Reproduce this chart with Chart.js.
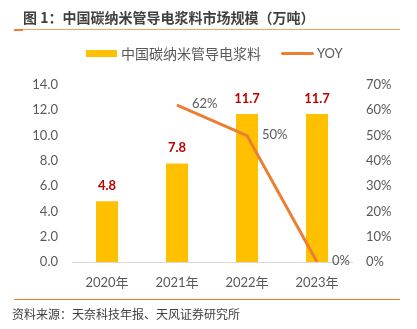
<!DOCTYPE html>
<html>
<head>
<meta charset="utf-8">
<script src="https://cdn.jsdelivr.net/npm/chart.js@4.4.1/dist/chart.umd.min.js"></script>
<style>
  html, body { margin: 0; padding: 0; background: #fff; }
  body { width: 417px; height: 329px; position: relative; overflow: hidden;
         font-family: Lato, "Noto Sans CJK SC", sans-serif; }
  #title { position: absolute; left: 23px; top: 7px; font-size: 14px; font-weight: bold;
           color: #404040; font-family: "Noto Sans CJK SC", sans-serif; white-space: nowrap; }
  #titleRule { position: absolute; left: 14px; top: 29px; width: 386px; height: 1px; background: #F4A35A; }
  #titleMark { position: absolute; left: 14px; top: 29px; width: 9px; height: 2px; background: #ED7D31; }
  #legend { position: absolute; top: 44px; left: 86px; height: 18px; display: flex; align-items: center;
            font-size: 14px; color: #595959; font-family: "Noto Sans CJK SC", sans-serif; }
  .sw-bar { width: 31px; height: 7px; background: #FFC000; margin-right: 4px; }
  .sw-line { width: 33px; height: 3px; background: #ED7D31; border-radius: 2px; margin-left: 20px; margin-right: 3px; }
  #legend .yoy { font-family: Lato, sans-serif; font-size: 13px; }
  #footRule { position: absolute; left: 14px; top: 299px; width: 386px; height: 1px; background: #ED7D31; }
  #source { position: absolute; left: 12px; top: 305px; font-size: 12px; color: #404040;
            font-family: "Noto Sans CJK SC", sans-serif; white-space: nowrap; }
  #wrap { position: absolute; left: 0; top: 0; width: 417px; height: 329px; }
</style>
</head>
<body>
<div id="wrap"><canvas id="c" width="417" height="329"></canvas></div>
<div id="title">图 1：中国碳纳米管导电浆料市场规模（万吨）</div>
<div id="titleRule"></div>
<div id="titleMark"></div>
<div id="legend">
  <div class="sw-bar"></div><span>中国碳纳米管导电浆料</span>
  <div class="sw-line"></div><span class="yoy">YOY</span>
</div>
<div id="footRule"></div>
<div id="source">资料来源：天奈科技年报、天风证券研究所</div>
<script>
// Market size of CNT conductive paste in China (10k tonnes) and year-on-year growth
const years = ['2020年', '2021年', '2022年', '2023年'];
const marketSize = [4.8, 7.8, 11.7, 11.7];
const yoyPct = [null, 62, 50, 0];
const leftTicks = [0, 2, 4, 6, 8, 10, 12, 14];
const rightTicks = [0, 10, 20, 30, 40, 50, 60, 70];

const tickFont = { family: 'Lato, "Noto Sans CJK SC", sans-serif', size: 13 };
const tickColor = '#595959';

// Draws the value labels: bar totals above bars, growth rates to the right of line points
const valueLabels = {
  id: 'valueLabels',
  afterDatasetsDraw(chart) {
    const ctx = chart.ctx;
    ctx.save();
    const bars = chart.getDatasetMeta(0).data;
    ctx.font = 'bold 13px Lato, sans-serif';
    ctx.fillStyle = '#C00000';
    ctx.textAlign = 'center';
    ctx.textBaseline = 'bottom';
    bars.forEach((el, i) => {
      ctx.fillText(marketSize[i].toFixed(1), el.x, el.y - 9);
    });
    const pts = chart.getDatasetMeta(1).data;
    ctx.font = '13px Lato, sans-serif';
    ctx.fillStyle = '#595959';
    ctx.textAlign = 'left';
    ctx.textBaseline = 'middle';
    pts.forEach((el, i) => {
      if (yoyPct[i] === null) return;
      ctx.fillText(yoyPct[i] + '%', el.x + 15, el.y - 1);
    });
    ctx.restore();
  }
};

new Chart(document.getElementById('c'), {
  type: 'bar',
  data: {
    labels: years,
    datasets: [
      {
        label: '中国碳纳米管导电浆料',
        data: marketSize,
        backgroundColor: '#FFC000',
        categoryPercentage: 1,
        barPercentage: 0.315,
        yAxisID: 'y',
        order: 2
      },
      {
        type: 'line',
        label: 'YOY',
        data: yoyPct,
        borderColor: '#ED7D31',
        borderWidth: 3,
        pointRadius: 0,
        tension: 0,
        yAxisID: 'y1',
        order: 1
      }
    ]
  },
  options: {
    responsive: false,
    animation: false,
    layout: { padding: { top: 85, bottom: 37, left: 0, right: 0 } },
    plugins: { legend: { display: false }, tooltip: { enabled: false } },
    scales: {
      x: {
        grid: { display: false, drawTicks: false },
        border: { display: true, color: '#D9D9D9', width: 1 },
        ticks: { color: tickColor, font: tickFont, padding: 13 },
        afterFit: s => { s.height = 30; }
      },
      y: {
        position: 'left',
        min: 0, max: 14,
        afterBuildTicks: s => { s.ticks = leftTicks.map(v => ({ value: v })); },
        grid: { display: false, drawTicks: false },
        border: { display: false },
        ticks: { color: tickColor, font: tickFont, padding: 14, callback: v => v.toFixed(1) },
        afterFit: s => { s.width = 72; }
      },
      y1: {
        position: 'right',
        min: 0, max: 70,
        afterBuildTicks: s => { s.ticks = rightTicks.map(v => ({ value: v })); },
        grid: { display: false, drawTicks: false },
        border: { display: false },
        ticks: { color: tickColor, font: tickFont, padding: 14, callback: v => v + '%' },
        afterFit: s => { s.width = 65; }
      }
    }
  },
  plugins: [valueLabels]
});
</script>
</body>
</html>
